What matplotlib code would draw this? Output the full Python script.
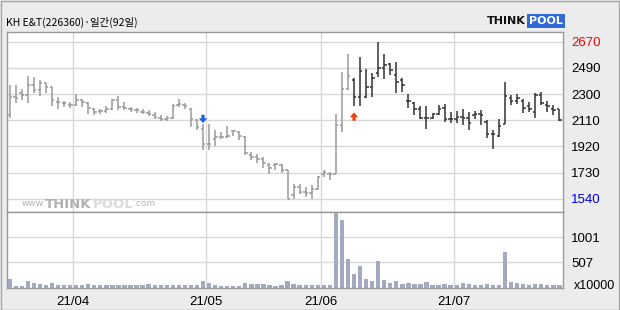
import matplotlib
matplotlib.use('Agg')
import matplotlib.pyplot as plt
from matplotlib.patches import Rectangle
import numpy as np

# daily OHLC (won)
opens = [2142, 2274, 2298, 2286, 2358, 2322, 2370, 2346, 2238, 2226,
         2214, 2214, 2250, 2226, 2183, 2173, 2173, 2183, 2250, 2202,
         2190, 2178, 2166, 2159, 2142, 2125, 2118, 2125, 2214, 2214,
         2190, 2106, 2046, 1938, 1974, 1986, 1986, 2029, 2022, 1986,
         1854, 1842, 1830, 1782, 1782, 1782, 1746, 1566, 1626, 1590,
         1583, 1614, 1717, 1722, 1722, 2075, 2327, 2394, 2274, 2274,
         2346, 2447, 2478, 2507, 2430, 2394, 2245, 2231, 2190, 2125,
         2125, 2149, 2197, 2111, 2118, 2130, 2125, 2142, 2149, 2094,
         2005, 1991, 2082, 2262, 2245, 2245, 2207, 2166, 2286, 2214,
         2190, 2183]
highs = [2358, 2358, 2327, 2423, 2418, 2394, 2375, 2346, 2274, 2245,
         2238, 2293, 2255, 2238, 2197, 2190, 2207, 2255, 2279, 2238,
         2202, 2197, 2183, 2178, 2166, 2142, 2135, 2221, 2255, 2231,
         2197, 2118, 2077, 2077, 2034, 2022, 2063, 2039, 2029, 1991,
         1878, 1866, 1842, 1799, 1799, 1794, 1751, 1650, 1650, 1626,
         1638, 1703, 1751, 1734, 2149, 2454, 2581, 2406, 2562, 2471,
         2442, 2670, 2581, 2519, 2521, 2406, 2293, 2238, 2207, 2207,
         2159, 2214, 2221, 2166, 2171, 2183, 2166, 2173, 2178, 2106,
         2039, 2111, 2382, 2286, 2293, 2255, 2238, 2298, 2310, 2245,
         2214, 2190]
lows = [2125, 2231, 2250, 2226, 2298, 2279, 2298, 2207, 2190, 2202,
        2197, 2207, 2202, 2149, 2142, 2154, 2159, 2178, 2178, 2178,
        2166, 2159, 2154, 2135, 2111, 2101, 2101, 2118, 2202, 2190,
        2058, 2039, 1895, 1895, 1919, 1974, 1981, 1991, 1967, 1854,
        1818, 1799, 1765, 1722, 1751, 1727, 1542, 1542, 1578, 1554,
        1542, 1607, 1698, 1674, 1717, 2022, 2322, 2207, 2207, 2262,
        2274, 2418, 2399, 2430, 2303, 2310, 2197, 2142, 2111, 2044,
        2111, 2142, 2094, 2087, 2087, 2070, 2039, 2111, 2070, 1981,
        1902, 1986, 2077, 2214, 2221, 2159, 2166, 2125, 2214, 2166,
        2142, 2101]
closes = [2274, 2262, 2286, 2358, 2322, 2370, 2346, 2250, 2238, 2226,
          2214, 2250, 2238, 2197, 2166, 2173, 2183, 2250, 2202, 2197,
          2183, 2178, 2166, 2149, 2130, 2118, 2125, 2207, 2221, 2207,
          2118, 2058, 1938, 1938, 1986, 1986, 1991, 2029, 1991, 1871,
          1842, 1830, 1799, 1765, 1789, 1746, 1542, 1626, 1590, 1583,
          1614, 1698, 1734, 1722, 2070, 2327, 2423, 2274, 2461, 2346,
          2406, 2478, 2502, 2466, 2382, 2358, 2245, 2190, 2125, 2125,
          2149, 2190, 2111, 2111, 2130, 2125, 2087, 2149, 2142, 2005,
          2005, 2063, 2279, 2245, 2262, 2197, 2190, 2286, 2226, 2207,
          2178, 2106]
# volume, x10000 shares
volumes = [174, 40, 40, 134, 94, 74, 54, 94, 54, 54,
           54, 54, 54, 74, 54, 54, 54, 54, 54, 54,
           54, 54, 54, 74, 54, 54, 54, 67, 67, 54,
           67, 67, 134, 94, 54, 34, 34, 34, 34, 94,
           74, 74, 74, 54, 34, 54, 134, 74, 54, 55,
           55, 55, 55, 55, 1475, 1342, 575, 274, 434, 174,
           134, 534, 154, 100, 140, 87, 100, 80, 80, 120,
           60, 60, 80, 60, 60, 100, 80, 67, 67, 80,
           67, 60, 720, 120, 100, 80, 60, 80, 80, 60,
           60, 60]

month_starts = [11, 33, 52, 74]
month_labels = ['21/04', '21/05', '21/06', '21/07']
price_ticks = ['1540', '1730', '1920', '2110', '2300', '2490', '2670']
vol_ticks = [507, 1001]
sell_idx = 32
buy_idx = 57

W, H = 620, 310
LBL_FONT = ['Liberation Sans', 'DejaVu Sans']
fig = plt.figure(figsize=(6.2, 3.1), dpi=100, facecolor='#ececec')
fig.patches.append(Rectangle((0.5 / W, 0.5 / H), 1 - 1.5 / W, 1 - 1.5 / H,
                             transform=fig.transFigure, fill=False,
                             edgecolor='#a6a6a6', lw=1))

ax = fig.add_axes([7 / W, 1 - 212 / H, 556 / W, 180 / H])
axv = fig.add_axes([7 / W, 1 - 288 / H, 556 / W, 76 / H])

x = np.arange(len(closes))
cols = ['#9a9a9a' if i < buy_idx else '#333333' for i in x]

ax.vlines(x, lows, highs, colors=cols, lw=1.1)
ax.hlines(opens, x - 0.4, x, colors=cols, lw=1.1)
ax.hlines(closes, x, x + 0.4, colors=cols, lw=1.1)

# signal arrows
ax.annotate('', xy=(sell_idx, highs[sell_idx] + 8),
            xytext=(sell_idx, highs[sell_idx] + 68),
            arrowprops=dict(facecolor='#1f5fe0', edgecolor='none',
                            width=2.3, headwidth=6, headlength=3.5))
ax.annotate('', xy=(buy_idx, lows[buy_idx] - 45),
            xytext=(buy_idx, lows[buy_idx] - 105),
            arrowprops=dict(facecolor='#f0400a', edgecolor='none',
                            width=2.3, headwidth=6, headlength=3.5))

lo_tick, step = 1540, 188.5
tick_vals = [lo_tick + k * step for k in range(len(price_ticks))]
ax.set_ylim(1446, 2740)
ax.set_xlim(-0.45, 91.6)
ax.set_yticks(tick_vals)
ax.set_yticklabels(price_ticks)
ax.yaxis.tick_right()
ax.set_xticks([m - 0.5 for m in month_starts])
ax.set_xticklabels([])
ax.grid(True, color='#d8d8d8', lw=1)
ax.set_axisbelow(True)
ax.tick_params(axis='both', length=0)
ax.tick_params(axis='y', pad=6, labelsize=9.5)
lbls = ax.get_yticklabels()
for t in lbls:
    t.set_family(LBL_FONT)
lbls[0].set_color('#0000ee')
lbls[-1].set_color('#ee0000')

axv.bar(x, volumes, width=0.72, color='#a3aac0')
axv.set_xlim(-0.45, 91.6)
axv.set_ylim(0, 1500)
axv.set_yticks(vol_ticks)
axv.set_yticklabels([str(v) for v in vol_ticks])
axv.yaxis.tick_right()
axv.set_xticks([m - 0.5 for m in month_starts])
axv.set_xticklabels(month_labels)
axv.grid(True, color='#d8d8d8', lw=1)
axv.set_axisbelow(True)
axv.tick_params(axis='both', length=0)
axv.tick_params(axis='y', pad=6, labelsize=9.5)
axv.tick_params(axis='x', pad=6, labelsize=9.5)
for t in axv.get_yticklabels() + axv.get_xticklabels():
    t.set_family(LBL_FONT)

for a in (ax, axv):
    a.set_facecolor('white')
    for s in a.spines.values():
        s.set_color('#9a9a9a')
        s.set_linewidth(1)

fig.text(574 / W, 1 - 286 / H, 'x10000', fontsize=9, va='center',
         family=LBL_FONT)

# title
fig.text(6 / W, 1 - 22 / H, 'KH E&T(226360)·일간(92일)', fontsize=7.5,
         va='center', family=['Noto Sans CJK KR', 'DejaVu Sans'])

# logo
fig.text(487 / W, 1 - 21 / H, 'THINK', fontsize=8, fontweight='bold',
         va='center', color='#111111')
fig.text(529 / W, 1 - 21 / H, 'POOL', fontsize=8, fontweight='bold',
         va='center', color='white',
         bbox=dict(boxstyle='square,pad=0.15', facecolor='#2f6ad8',
                   edgecolor='none'))

# watermark
wm_y = 1 - 204 / H
fig.text(22 / W, wm_y, 'www.', fontsize=6.5, color='#b4b4b4', va='center')
fig.text(45 / W, wm_y, 'THINK', fontsize=9.5, fontweight='bold',
         color='#b0b0b0', va='center')
fig.text(93 / W, wm_y, 'POOL', fontsize=9.5, fontweight='bold',
         color='#dadada', va='center')
fig.text(133 / W, wm_y, '.com', fontsize=6.5, color='#b4b4b4', va='center')

fig.savefig('out.png', dpi=100, facecolor=fig.get_facecolor())
